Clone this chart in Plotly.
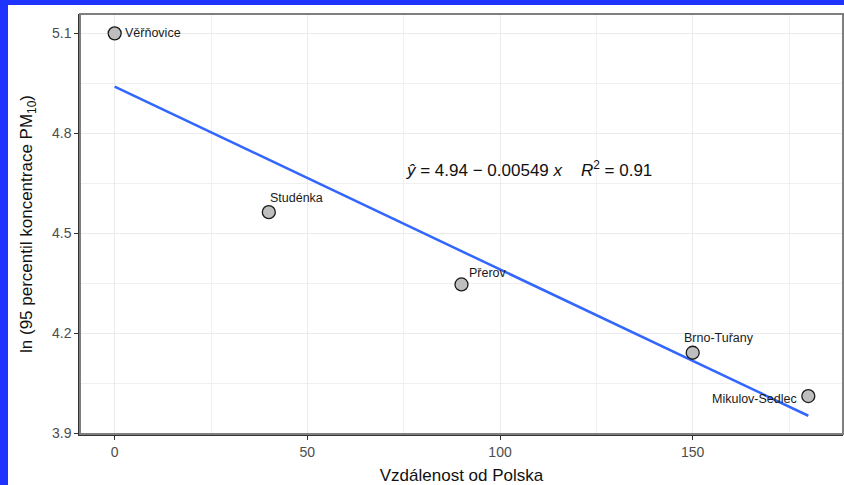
import plotly.graph_objects as go

stations = ["Věřňovice", "Studénka", "Přerov", "Brno-Tuřany", "Mikulov-Sedlec"]
distance = [0, 40, 90, 150, 180]
ln_pm10 = [5.10, 4.563, 4.346, 4.141, 4.011]
fit_x = [0, 180]
intercept = 4.94
slope = -0.00549
fit_y = [intercept + slope * v for v in fit_x]
x_ticks = [0, 50, 100, 150]
y_ticks = [3.9, 4.2, 4.5, 4.8, 5.1]

W, H = 844, 485
L, R, T, B = 80, 1, 14, 51
pw, ph = W - L - R, H - T - B

fig = go.Figure()
fig.add_trace(go.Scatter(x=fit_x, y=fit_y, mode="lines",
                         line=dict(color="#3366FF", width=2.5), hoverinfo="skip"))
fig.add_trace(go.Scatter(x=distance, y=ln_pm10, mode="markers",
                         marker=dict(size=13, color="#BEBEBE", line=dict(color="#1a1a1a", width=1.3))))

# label offsets (pixels): (xanchor, xshift, yshift)
offs = [("left", 8, 0), ("left", -1, 14), ("left", 5, 11), ("left", -11, 15), ("right", -9, -3)]
for name, xv, yv, (xa, xs, ys) in zip(stations, distance, ln_pm10, offs):
    fig.add_annotation(x=xv, y=yv, text=name, showarrow=False, xanchor=xa, yanchor="middle",
                       xshift=xs, yshift=ys,
                       font=dict(family="Liberation Sans, Arial", size=12.5, color="#1a1a1a"))

fig.add_annotation(x=107.5, y=4.692, showarrow=False, xanchor="center", yanchor="middle",
                   text="<i>ŷ</i> = 4.94 − 0.00549 <i>x</i>&nbsp;&nbsp;&nbsp;&nbsp;<i>R</i><sup>2</sup> = 0.91",
                   font=dict(family="Liberation Sans, Arial", size=17, color="#111111"))

# blue frame strips
blue = "#1F33FF"
fig.add_shape(type="rect", xref="paper", yref="paper",
              x0=(0 - L) / pw, x1=(8 - L) / pw, y0=-(B) / ph, y1=1 + T / ph,
              fillcolor=blue, line=dict(width=0), layer="above")
fig.add_shape(type="rect", xref="paper", yref="paper",
              x0=-L / pw, x1=1 + R / pw, y0=1 + (T - 5) / ph, y1=1 + T / ph,
              fillcolor=blue, line=dict(width=0), layer="above")
# panel border
fig.add_shape(type="rect", xref="paper", yref="paper", x0=0, x1=1, y0=0, y1=1,
              line=dict(color="#7F7F7F", width=2), layer="above")

fig.update_layout(
    width=W, height=H, margin=dict(l=L, r=R, t=T, b=B),
    paper_bgcolor="white", plot_bgcolor="white", showlegend=False,
    font=dict(family="Liberation Sans, Arial"),
)
fig.update_xaxes(range=[-9, 189], tickvals=x_ticks, ticktext=[str(v) for v in x_ticks],
                 showgrid=True, gridcolor="#EBEBEB", gridwidth=1.2,
                 minor=dict(showgrid=True, gridcolor="#F0F0F0", gridwidth=1, tickvals=[25, 75, 125, 175]),
                 zeroline=False, showline=True, linecolor="#333333", linewidth=1.5,
                 ticks="outside", ticklen=4, tickcolor="#333333",
                 tickfont=dict(size=14, color="#4D4D4D"),
                 title=dict(text="Vzdálenost od Polska", font=dict(size=17, color="#111111"), standoff=11))
fig.update_yaxes(range=[3.897, 5.158], tickvals=y_ticks, ticktext=[f"{v:.1f}" for v in y_ticks],
                 showgrid=True, gridcolor="#EBEBEB", gridwidth=1.2,
                 minor=dict(showgrid=True, gridcolor="#F0F0F0", gridwidth=1, tickvals=[4.05, 4.35, 4.65, 4.95]),
                 zeroline=False, showline=True, linecolor="#333333", linewidth=1.5,
                 ticks="outside", ticklen=4, tickcolor="#333333",
                 tickfont=dict(size=14, color="#4D4D4D"),
                 title=dict(text="ln (95 percentil koncentrace PM<sub>10</sub>)", font=dict(size=17, color="#111111"), standoff=15))

fig.write_html("out.html")
